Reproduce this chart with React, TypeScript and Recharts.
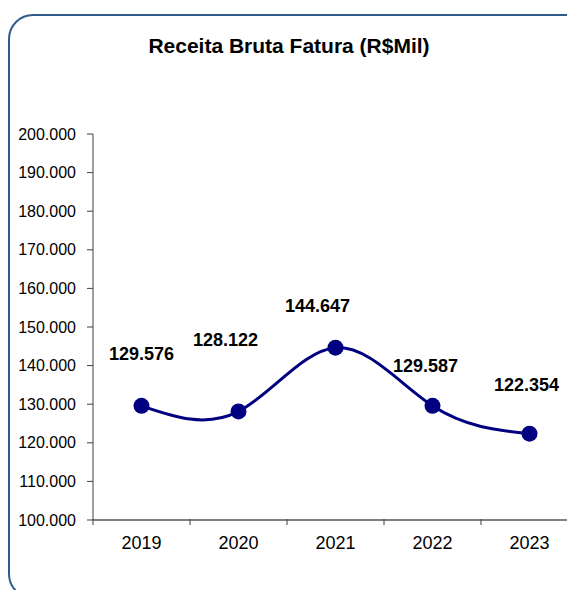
import React from 'react';
import { LineChart, Line, XAxis, YAxis, LabelList } from 'recharts';

const years = ['2019', '2020', '2021', '2022', '2023'];
const receita = [129576, 128122, 144647, 129587, 122354];
const yTicks = [100000, 110000, 120000, 130000, 140000, 150000, 160000, 170000, 180000, 190000, 200000];
const xBoundaryTicks = [0, 1, 2, 3, 4, 5];

// label placement relative to each point (dx, dy of label centre)
const labelNudge = [
  [0, -52],
  [-13, -71],
  [-18, -42],
  [-7, -40],
  [-3, -49],
];

const data = years.map((year, i) => ({ year, pos: i + 0.5, value: receita[i] }));

const fmt = (v: number) => (v / 1000).toFixed(3);

const FONT = '"Liberation Sans", Arial, sans-serif';

function ValueLabel(props: any) {
  const { x, y, index, value } = props;
  const [dx, dy] = labelNudge[index] || [0, -50];
  return (
    <text
      x={x + dx}
      y={y + dy}
      textAnchor="middle"
      dominantBaseline="central"
      fontSize={18}
      fontWeight="bold"
      fontFamily={FONT}
      fill="#000"
    >
      {fmt(value)}
    </text>
  );
}

// tick mark only, no text
function TickMark(props: any) {
  const { x, y } = props;
  return <line x1={x} y1={y - 1} x2={x} y2={y + 5} stroke="#404040" strokeWidth={1} />;
}

export default function App() {
  return (
    <div style={{ position: 'fixed', left: 0, top: 0, width: 567, height: 590, overflow: 'hidden', background: '#fff' }}>
      <div
        style={{
          position: 'absolute',
          left: 8,
          top: 14,
          width: 620,
          height: 585,
          border: '2px solid #2f5b8a',
          borderRadius: 25,
          boxSizing: 'border-box',
        }}
      />
      <div
        style={{
          position: 'absolute',
          left: 0,
          width: 578,
          top: 34,
          textAlign: 'center',
          fontFamily: FONT,
          fontWeight: 'bold',
          fontSize: 21,
          color: '#000',
        }}
      >
        Receita Bruta Fatura (R$Mil)
      </div>
      <div style={{ position: 'absolute', left: 0, top: 0 }}>
        <LineChart width={600} height={590} data={data} margin={{ top: 134, right: 22, bottom: 30, left: 8 }}>
          <XAxis
            dataKey="pos"
            type="number"
            domain={[0, 5]}
            ticks={xBoundaryTicks}
            interval={0}
            tick={<TickMark />}
            tickLine={false}
            tickMargin={0}
            tickSize={0}
            height={1}
            axisLine={{ stroke: '#808080', strokeWidth: 2 }}
          />
          <XAxis
            xAxisId="cat"
            dataKey="year"
            type="category"
            scale="band"
            axisLine={false}
            tickLine={false}
            height={39}
            tickMargin={9}
            tick={{ fontSize: 18, fill: '#000', fontFamily: FONT }}
          />
          <YAxis
            domain={[100000, 200000]}
            ticks={yTicks}
            tickFormatter={fmt}
            width={85}
            tickSize={6}
            tickMargin={11}
            axisLine={{ stroke: '#404040' }}
            tickLine={{ stroke: '#404040' }}
            tick={{ fontSize: 16, fill: '#000', fontFamily: FONT }}
            interval={0}
          />
          <Line
            type="natural"
            dataKey="value"
            stroke="#000080"
            strokeWidth={3}
            dot={{ r: 8, fill: '#000080', stroke: '#000080', strokeWidth: 0 }}
            isAnimationActive={false}
          >
            <LabelList dataKey="value" content={<ValueLabel />} />
          </Line>
        </LineChart>
      </div>
    </div>
  );
}
